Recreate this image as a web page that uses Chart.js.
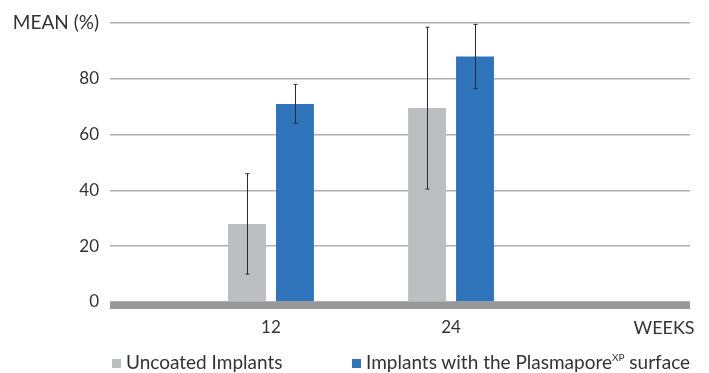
<!DOCTYPE html>
<html lang="en">
<head>
    <meta charset="UTF-8">
    <title>Mean (%) by weeks</title>
    <script src="https://cdn.jsdelivr.net/npm/chart.js"></script>
    <style>
        html, body { margin: 0; padding: 0; background: #fff; }
        .wrap { position: relative; width: 709px; height: 373px; }
        #chart { position: absolute; left: 0; top: 0; }
        .legend {
            position: absolute; left: 112px; top: 352px;
            display: flex; font-family: Lato, sans-serif; font-size: 19px; color: #333;
            line-height: 20px; white-space: nowrap;
        }
        .legend .item { display: flex; align-items: center; }
        .legend .item:first-child { width: 240px; }
        .legend .box { width: 9px; height: 9px; margin-right: 5px; margin-top: 2px; }
        .legend sup { font-size: 10px; vertical-align: 8px; line-height: 0; }
    </style>
</head>
<body>
    <div class="wrap">
        <canvas id="chart" width="709" height="373"></canvas>
        <div class="legend" id="legend"></div>
    </div>
    <script>
        // weeks on the x axis
        const weeks = [12, 24];
        const xTickValues = [12, 24, 38.2];
        const xTickLabels = ["12", "24", "WEEKS"];
        const yTickLabels = { 0: "0", 20: "20", 40: "40", 60: "60", 80: "80", 100: "MEAN (%)" };

        const seriesNames = ["Uncoated Implants", "Implants with the Plasmapore XP surface"];
        const legendHtml = ["Uncoated Implants", "Implants with the Plasmapore<sup>XP</sup> surface"];
        const uncoated = [28, 69.5];
        const uncoatedErr = [18, 29];
        const plasmapore = [71, 88];
        const plasmaporeErr = [7, 11.5];

        const colors = ["#bdbec1", "#2f74bb"];

        // grey band under the bars
        const baseBand = {
            id: "baseBand",
            afterDatasetsDraw(chart) {
                const { ctx, chartArea } = chart;
                ctx.save();
                ctx.fillStyle = "#98989b";
                ctx.fillRect(chartArea.left, chartArea.bottom, chartArea.right - chartArea.left, 7);
                ctx.restore();
            }
        };

        // error bars from the err arrays
        const errorBars = {
            id: "errorBars",
            afterDatasetsDraw(chart) {
                const { ctx } = chart;
                const yScale = chart.scales.y;
                ctx.save();
                ctx.strokeStyle = "#2b2b2b";
                ctx.lineWidth = 1;
                chart.data.datasets.forEach((ds, i) => {
                    const meta = chart.getDatasetMeta(i);
                    meta.data.forEach((bar, j) => {
                        const v = ds.data[j].y;
                        const e = ds.errors[j];
                        const x = Math.round(bar.x) + 0.5;
                        const top = yScale.getPixelForValue(v + e);
                        const bot = yScale.getPixelForValue(v - e);
                        ctx.beginPath();
                        ctx.moveTo(x, top);
                        ctx.lineTo(x, bot);
                        ctx.moveTo(x - 2, top);
                        ctx.lineTo(x + 2, top);
                        ctx.moveTo(x - 2, bot);
                        ctx.lineTo(x + 2, bot);
                        ctx.stroke();
                    });
                });
                ctx.restore();
            }
        };

        const ctx = document.getElementById("chart").getContext("2d");
        const chart = new Chart(ctx, {
            type: "bar",
            data: {
                datasets: [
                    {
                        label: seriesNames[0],
                        data: weeks.map((w, i) => ({ x: w, y: uncoated[i] })),
                        errors: uncoatedErr,
                        backgroundColor: colors[0]
                    },
                    {
                        label: seriesNames[1],
                        data: weeks.map((w, i) => ({ x: w, y: plasmapore[i] })),
                        errors: plasmaporeErr,
                        backgroundColor: colors[1]
                    }
                ]
            },
            options: {
                responsive: false,
                animation: false,
                categoryPercentage: 0.533,
                barPercentage: 0.79,
                layout: { padding: { top: 23, right: 19, bottom: 26, left: 0 } },
                plugins: {
                    legend: { display: false },
                    tooltip: { enabled: false }
                },
                scales: {
                    x: {
                        type: "linear",
                        offset: false,
                        min: 1.27,
                        max: 39.93,
                        grid: { display: false, offset: false },
                        border: { display: false },
                        afterBuildTicks: (scale) => {
                            scale.ticks = xTickValues.map(v => ({ value: v }));
                        },
                        afterFit: (scale) => { scale.height = 45; },
                        ticks: {
                            autoSkip: false,
                            maxRotation: 0,
                            padding: 7,
                            color: "#333",
                            font: (c) => ({ family: "Lato", size: c.index === 2 ? 18 : 17 }),
                            callback: (v, i) => xTickLabels[i]
                        }
                    },
                    y: {
                        min: 0,
                        max: 100,
                        afterFit: (scale) => { scale.width = 110; },
                        grid: { color: "#b0b0b0", lineWidth: 1.5, drawTicks: false },
                        border: { display: false },
                        ticks: {
                            stepSize: 20,
                            padding: 11,
                            color: "#333",
                            font: (c) => ({ family: "Lato", size: c.tick && c.tick.value === 100 ? 19 : 17 }),
                            callback: (v) => yTickLabels[v]
                        }
                    }
                }
            },
            plugins: [baseBand, errorBars]
        });

        // html legend so the superscript stays as text
        document.getElementById("legend").innerHTML = chart.data.datasets.map((ds, i) =>
            `<div class="item"><span class="box" style="background:${ds.backgroundColor}"></span><span>${legendHtml[i]}</span></div>`
        ).join("");
    </script>
</body>
</html>
